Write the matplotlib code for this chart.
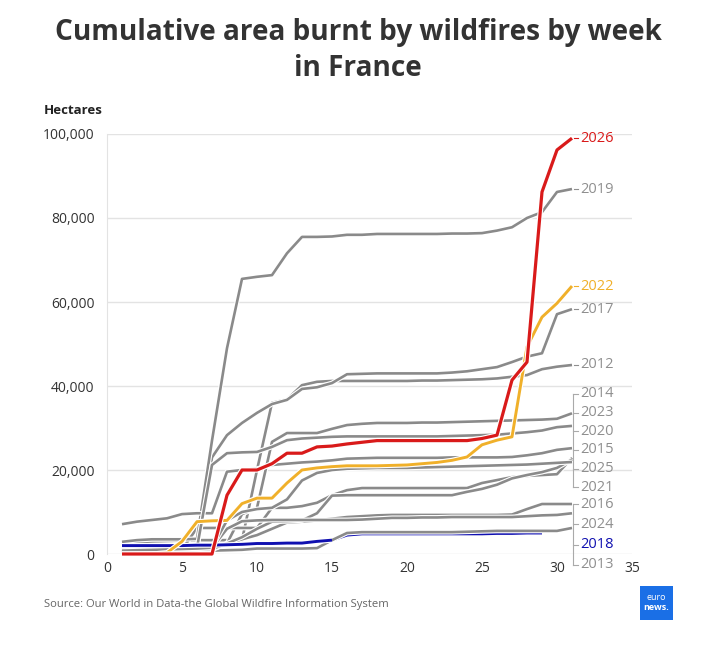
import matplotlib
matplotlib.use("Agg")
import matplotlib.pyplot as plt
import matplotlib.patheffects as pe
from matplotlib.patches import Rectangle

plt.rcParams['font.family'] = ['Open Sans', 'DejaVu Sans']

# ---------------------------------------------
# data: cumulative hectares burnt, by week
# ---------------------------------------------
weeks = list(range(1, 32))

y2012 = [2700, 2800, 3000, 3100, 3200, 3300, 3300, 3300, 3300, 20000, 36000, 36800, 40200, 41000, 41200, 41200,
         41200, 41200, 41200, 41200, 41300, 41300, 41400, 41500, 41600, 41800, 42200, 42600, 44000, 44600, 45000]
y2013 = [200, 300, 400, 500, 600, 700, 800, 900, 1000, 1300, 1300, 1300, 1300, 1400, 3300, 5000,
         5200, 5200, 5200, 5200, 5200, 5200, 5200, 5300, 5400, 5500, 5500, 5500, 5500, 5500, 6200]
y2014 = [500, 600, 700, 800, 900, 1000, 1200, 2500, 9500, 11000, 26700, 28800, 28800, 28800, 29800, 30700,
         31000, 31200, 31200, 31200, 31300, 31300, 31400, 31500, 31600, 31700, 31800, 31900, 32000, 32200, 33500]
y2015 = [600, 700, 800, 900, 1000, 6200, 6200, 6200, 6200, 6200, 11000, 11000, 11400, 12200, 14000, 15200,
         15700, 15700, 15700, 15700, 15700, 15700, 15700, 15700, 16900, 17600, 18300, 18600, 18800, 19000, 22900]
y2016 = [300, 400, 500, 600, 700, 800, 1000, 2500, 3500, 4500, 6000, 7500, 7700, 8000, 8400, 8800,
         9000, 9200, 9300, 9300, 9300, 9300, 9300, 9300, 9300, 9300, 9400, 10700, 11900, 11900, 11900]
y2017 = [600, 700, 800, 900, 1000, 1200, 23000, 28300, 31200, 33600, 35700, 36700, 39300, 39700, 40700, 42800,
         42900, 43000, 43000, 43000, 43000, 43000, 43200, 43500, 44000, 44500, 45700, 47000, 47800, 57100, 58300]
y2018 = [2000, 2000, 2000, 2000, 2000, 2100, 2100, 2200, 2300, 2500, 2500, 2600, 2600, 3000, 3300, 4500,
         4800, 4800, 4800, 4800, 4800, 4800, 4800, 4800, 4800, 4900, 4900, 5000, 5000]
y2019 = [2900, 3300, 3500, 3500, 3500, 3600, 27000, 49000, 65500, 66000, 66400, 71600, 75500, 75500, 75600, 76000,
         76000, 76200, 76200, 76200, 76200, 76200, 76300, 76300, 76400, 77000, 77800, 80000, 81400, 86200, 86900]
y2020 = [7100, 7700, 8100, 8500, 9500, 9700, 9700, 19600, 20000, 20300, 21200, 21500, 21800, 22000, 22300, 22700,
         22800, 22900, 22900, 22900, 22900, 22900, 23000, 23000, 23000, 23000, 23100, 23500, 24000, 24800, 25200]
y2021 = [500, 600, 700, 800, 900, 1000, 1200, 2500, 4000, 6000, 7700, 7800, 8000, 9700, 13900, 14000,
         14000, 14000, 14000, 14000, 14000, 14000, 14000, 14800, 15500, 16500, 18000, 18800, 19500, 20500, 22500]
y2022 = [0, 0, 0, 300, 3000, 7700, 7900, 8000, 12000, 13300, 13300, 16900, 20000, 20500, 20800, 21000,
         21000, 21000, 21100, 21200, 21500, 21800, 22300, 23100, 26000, 27100, 27900, 49300, 56400, 59700, 63800]
y2023 = [1000, 1100, 1200, 1300, 1400, 1500, 21200, 24000, 24200, 24300, 25500, 27100, 27500, 27700, 27900, 28000,
         28000, 28000, 28000, 28000, 28000, 28000, 28100, 28200, 28300, 28400, 28700, 29000, 29400, 30200, 30500]
y2024 = [600, 800, 1000, 1100, 1200, 1300, 1500, 6000, 7800, 8000, 8100, 8100, 8100, 8100, 8100, 8100,
         8200, 8400, 8600, 8600, 8700, 8700, 8800, 8800, 8800, 8800, 8800, 9000, 9200, 9300, 9700]
y2025 = [800, 900, 1000, 1100, 1200, 1300, 1500, 8000, 10000, 10700, 11000, 13000, 17500, 19300, 20000, 20300,
         20400, 20500, 20500, 20500, 20600, 20700, 20800, 20900, 21000, 21100, 21200, 21300, 21500, 21700, 21900]
y2026 = [0, 0, 0, 0, 0, 0, 0, 14000, 20000, 20000, 21500, 24000, 24000, 25500, 25700, 26200,
         26600, 27000, 27000, 27000, 27000, 27000, 27000, 27000, 27500, 28300, 41400, 45700, 86200, 96200, 99000]

series = {
    '2012': y2012, '2013': y2013, '2014': y2014, '2015': y2015, '2016': y2016,
    '2017': y2017, '2018': y2018, '2019': y2019, '2020': y2020, '2021': y2021,
    '2022': y2022, '2023': y2023, '2024': y2024, '2025': y2025, '2026': y2026,
}

GRAY = '#8a8a8a'
LABEL_GRAY = '#8f8f8f'
highlight = {'2026': '#d91a1a', '2022': '#f0b02a', '2018': '#1010b0'}

# label placement (text only): single labels sit at the line end,
# crowded ones are stacked in a bracket
single_labels = ['2026', '2019', '2022', '2017', '2012']
groups = [
    (['2014', '2023', '2020', '2015', '2025', '2021'], 38100, 4440),
    (['2016', '2024', '2018', '2013'], 11900, 4820),
]

# =========================================
# figure
# =========================================
fig = plt.figure(figsize=(7.28, 6.45), dpi=100)
ax = fig.add_axes([107 / 728, 1 - 554 / 645, 525 / 728, 420 / 645])

ax.set_xlim(0, 35)
ax.set_ylim(0, 100000)
ax.set_xticks(range(0, 36, 5))
ax.set_yticks(range(0, 100001, 20000))
ax.set_yticklabels([f'{v:,}' for v in range(0, 100001, 20000)])
ax.tick_params(length=0, labelsize=10, colors='#333333', pad=9)
ax.tick_params(axis='x', pad=5)
ax.grid(axis='y', color='#e3e3e3', linewidth=1)
ax.set_axisbelow(True)
for s in ['top', 'right', 'bottom']:
    ax.spines[s].set_visible(False)
ax.spines['left'].set_color('#e3e3e3')


def draw(year, color, lw, z, upto=None):
    vals = series[year][:upto]
    ax.plot(weeks[:len(vals)], vals, color=color, lw=lw, zorder=z, clip_on=False,
            solid_joinstyle='round', solid_capstyle='butt',
            path_effects=[pe.Stroke(linewidth=lw + 1.6, foreground='white'), pe.Normal()])


# 2018 sits under the grey lines later in the season but shows on top early on
draw('2018', highlight['2018'], 2.1, 2)
for year in series:
    if year not in highlight:
        draw(year, GRAY, 1.9, 3)
draw('2018', highlight['2018'], 2.1, 3.5, upto=15)
draw('2022', highlight['2022'], 2.1, 4)
draw('2026', highlight['2026'], 2.3, 5)


def label_color(year):
    return highlight.get(year, LABEL_GRAY)


lx = 31.55
for year in single_labels:
    yv = series[year][-1]
    ax.plot([31.1, 31.4], [yv, yv], color=label_color(year), lw=0.8, clip_on=False, zorder=6)
    ax.text(lx, yv, year, color=label_color(year), fontsize=10.5, va='center', ha='left',
            clip_on=False)

for years, top, step in groups:
    ys = [top - i * step for i in range(len(years))]
    ax.plot([31.05, 31.05], [ys[0], ys[-1]], color='#aaaaaa', lw=0.8, clip_on=False, zorder=6)
    for year, yv in zip(years, ys):
        ax.plot([31.05, 31.4], [yv, yv], color='#aaaaaa', lw=0.8, clip_on=False, zorder=6)
        ax.text(lx, yv, year, color=label_color(year), fontsize=10.5, va='center', ha='left',
                clip_on=False)

# titles and notes
fig.text(0.492, 0.921, 'Cumulative area burnt by wildfires by week\nin France', ha='center', va='center',
         fontsize=20.2, fontweight='bold', color='#333333', linespacing=1.32)
fig.text(44 / 728, 1 - 110 / 645, 'Hectares', ha='left', va='center', fontsize=9.5,
         fontweight='bold', color='#222222')
fig.text(44 / 728, 1 - 605 / 645, 'Source: Our World in Data-the Global Wildfire Information System',
         ha='left', va='center', fontsize=8.1, color='#666666')

# euronews logo
fig.patches.append(Rectangle((640 / 728, 1 - 620 / 645), 33 / 728, 34 / 645, transform=fig.transFigure,
                             facecolor='#1a6fe6', edgecolor='none'))
fig.text(656.5 / 728, 1 - 598 / 645, 'euro', ha='center', va='center', fontsize=6.5, color='white')
fig.text(656.5 / 728, 1 - 607 / 645, 'news.', ha='center', va='center', fontsize=6.5,
         fontweight='bold', color='white')

fig.savefig('out.png', dpi=100, facecolor='white')
